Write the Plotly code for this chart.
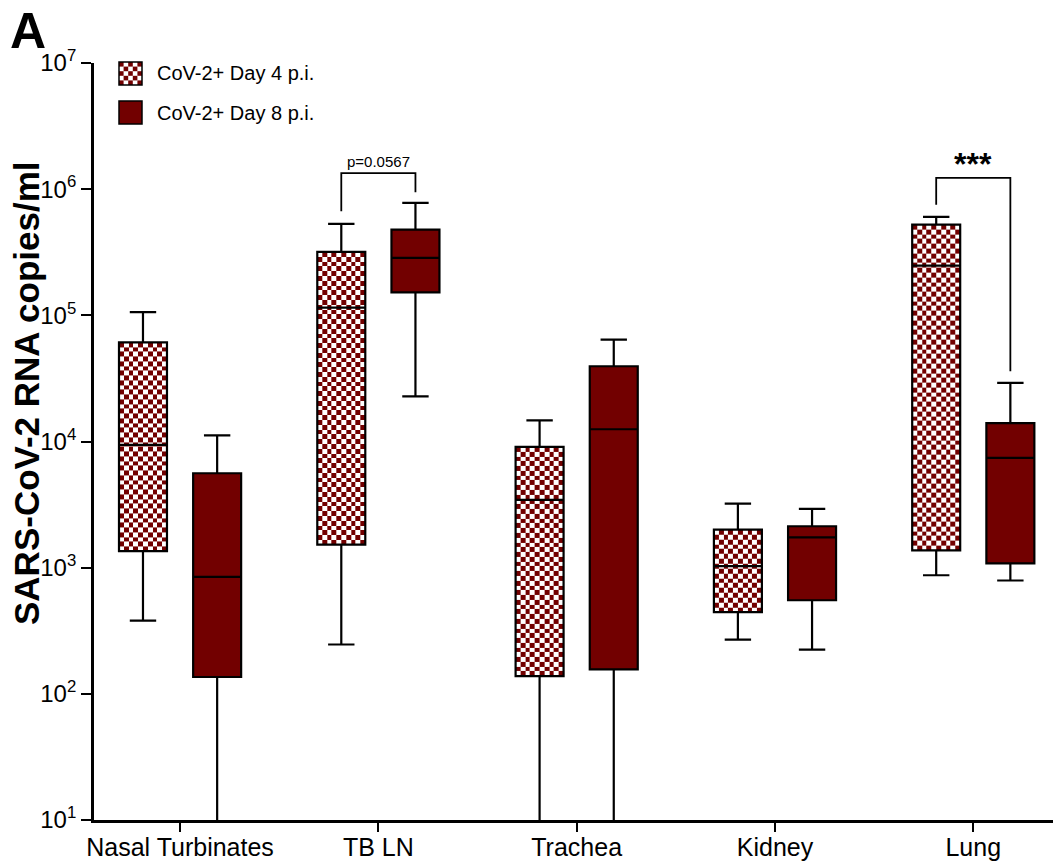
import numpy as np
import plotly.graph_objects as go

# ---------------- data ----------------
categories = ["Nasal Turbinates", "TB LN", "Trachea", "Kidney", "Lung"]
series_names = ["CoV-2+ Day 4 p.i.", "CoV-2+ Day 8 p.i."]

# Day 4 p.i. box statistics (RNA copies/ml); whiskers below 10 run off the axis
d4_lower = [381, 246, 3, 269, 871]
d4_q1 = [1350, 1520, 138, 444, 1370]
d4_median = [9400, 115000, 3440, 1030, 248000]
d4_q3 = [61000, 318000, 9060, 2000, 524000]
d4_upper = [106000, 530000, 14700, 3220, 603000]

# Day 8 p.i. box statistics
d8_lower = [3, 22800, 3, 224, 791]
d8_q1 = [136, 152000, 156, 552, 1080]
d8_median = [845, 285000, 12500, 1740, 7410]
d8_q3 = [5600, 478000, 39500, 2130, 14000]
d8_upper = [11200, 780000, 64100, 2920, 29100]

y_exponents = [1, 2, 3, 4, 5, 6, 7]
y_tick_vals = [10 ** k for k in y_exponents]
y_tick_text = ["10<sup>%d</sup>" % k for k in y_exponents]

# significance brackets
sig_category_index = [1, 4]
sig_labels = ["p=0.0567", "***"]
sig_top = [1.34e6, 1.23e6]
sig_left_end = [6.67e5, 7.54e5]
sig_right_end = [9.44e5, 3.6e4]

# ---------------- styling ----------------
DARK = "#720000"
FONT = "Arial, Liberation Sans, sans-serif"
W, H = 1053, 865
ML, MR, MT, MB = 94, 0, 63, 45
PW, PH = W - ML - MR, H - MT - MB
OFFSET = 0.187
BOXW = 0.242
CELL_DEC = 0.038   # checker cell height in decades
NCOLS = 10

x_idx = np.arange(len(categories))
pos4 = x_idx - OFFSET
pos8 = x_idx + OFFSET

fig = go.Figure()

# checkerboard fill for day-4 boxes (heatmap underneath the box outlines)
for c, lo, hi in zip(pos4, d4_q1, d4_q3):
    la, lb = np.log10(lo), np.log10(hi)
    nrows = max(2, int(round((lb - la) / CELL_DEC)))
    xe = np.linspace(c - BOXW / 2, c + BOXW / 2, NCOLS + 1)
    ye = 10 ** np.linspace(la, lb, nrows + 1)
    z = (np.add.outer(np.arange(nrows), np.arange(NCOLS)) % 2).astype(float)
    fig.add_trace(go.Heatmap(x=xe, y=ye, z=z, zmin=0, zmax=1,
                             colorscale=[[0, "white"], [1, DARK]],
                             showscale=False, hoverinfo="skip", showlegend=False))

fig.add_trace(go.Box(
    name=series_names[0], x=pos4, q1=d4_q1, median=d4_median, q3=d4_q3,
    lowerfence=d4_lower, upperfence=d4_upper, width=BOXW, whiskerwidth=0.55,
    fillcolor="rgba(0,0,0,0)", line=dict(color="black", width=2.2),
    boxpoints=False, showlegend=False, hoverinfo="skip"))

fig.add_trace(go.Box(
    name=series_names[1], x=pos8, q1=d8_q1, median=d8_median, q3=d8_q3,
    lowerfence=d8_lower, upperfence=d8_upper, width=BOXW, whiskerwidth=0.55,
    fillcolor=DARK, line=dict(color="black", width=2.2),
    boxpoints=False, showlegend=False, hoverinfo="skip"))

# significance brackets
for ci, lab, top, le, re in zip(sig_category_index, sig_labels, sig_top, sig_left_end, sig_right_end):
    xl, xr = ci - OFFSET, ci + OFFSET
    fig.add_trace(go.Scatter(x=[xl, xl, xr, xr], y=[le, top, top, re], mode="lines",
                             line=dict(color="black", width=1.8), showlegend=False,
                             hoverinfo="skip"))
    big = lab.startswith("*")
    fig.add_annotation(x=ci, y=np.log10(top), xref="x", yref="y",
                       text=("<b>%s</b>" % lab if big else lab),
                       showarrow=False, yanchor="bottom",
                       yshift=(-6 if big else 1),
                       font=dict(family=FONT, size=(32 if big else 15), color="black"))


def px2x(px):
    return (px - ML) / PW


def py2y(py):
    return (H - MB - py) / PH


# manual legend
shapes = []
lx0, size = 119, 23
rows_y = [62, 101]
n = 5
cs = size / n
for i in range(n):
    for j in range(n):
        if (i + j) % 2 == 0:
            shapes.append(dict(type="rect", xref="paper", yref="paper",
                               x0=px2x(lx0 + j * cs), x1=px2x(lx0 + (j + 1) * cs),
                               y0=py2y(rows_y[0] + (i + 1) * cs), y1=py2y(rows_y[0] + i * cs),
                               line=dict(width=0), fillcolor=DARK))
shapes.append(dict(type="rect", xref="paper", yref="paper",
                   x0=px2x(lx0), x1=px2x(lx0 + size), y0=py2y(rows_y[0] + size), y1=py2y(rows_y[0]),
                   line=dict(color="black", width=1.5), fillcolor="rgba(0,0,0,0)"))
shapes.append(dict(type="rect", xref="paper", yref="paper",
                   x0=px2x(lx0), x1=px2x(lx0 + size), y0=py2y(rows_y[1] + size), y1=py2y(rows_y[1]),
                   line=dict(color="black", width=1.5), fillcolor=DARK))
for ry, name in zip(rows_y, series_names):
    fig.add_annotation(x=px2x(155), y=py2y(ry + size / 2), xref="paper", yref="paper",
                       text=name, showarrow=False, xanchor="left", yanchor="middle",
                       font=dict(family=FONT, size=20, color="black"))

# panel letter and y title
fig.add_annotation(x=px2x(8), y=py2y(1), xref="paper", yref="paper", text="<b>A</b>",
                   showarrow=False, xanchor="left", yanchor="top",
                   font=dict(family=FONT, size=50, color="black"))
fig.add_annotation(x=px2x(26), y=py2y(393), xref="paper", yref="paper",
                   text="<b>SARS-CoV-2 RNA copies/ml</b>", textangle=-90, showarrow=False,
                   xanchor="center", yanchor="middle",
                   font=dict(family=FONT, size=35, color="black"))

fig.update_layout(
    width=W, height=H, margin=dict(l=ML, r=MR, t=MT, b=MB, autoexpand=False),
    plot_bgcolor="white", paper_bgcolor="white", shapes=shapes,
    xaxis=dict(range=[-0.434, 4.402], tickvals=list(x_idx), ticktext=categories,
               ticks="outside", ticklen=9, tickwidth=2, tickcolor="black",
               ticklabelstandoff=-6,
               showline=True, linewidth=2.8, linecolor="black", showgrid=False,
               zeroline=False, tickfont=dict(family=FONT, size=25, color="black")),
    yaxis=dict(type="log", range=[1, 7], tickvals=y_tick_vals, ticktext=y_tick_text,
               ticks="outside", ticklen=10, tickwidth=2, tickcolor="black",
               showline=True, linewidth=2.8, linecolor="black", showgrid=False,
               zeroline=False, tickfont=dict(family=FONT, size=24, color="black")),
    showlegend=False,
)

fig.write_html("out.html", config={"displayModeBar": False},
               post_script="document.body.style.margin='0';document.body.style.overflow='hidden';")
